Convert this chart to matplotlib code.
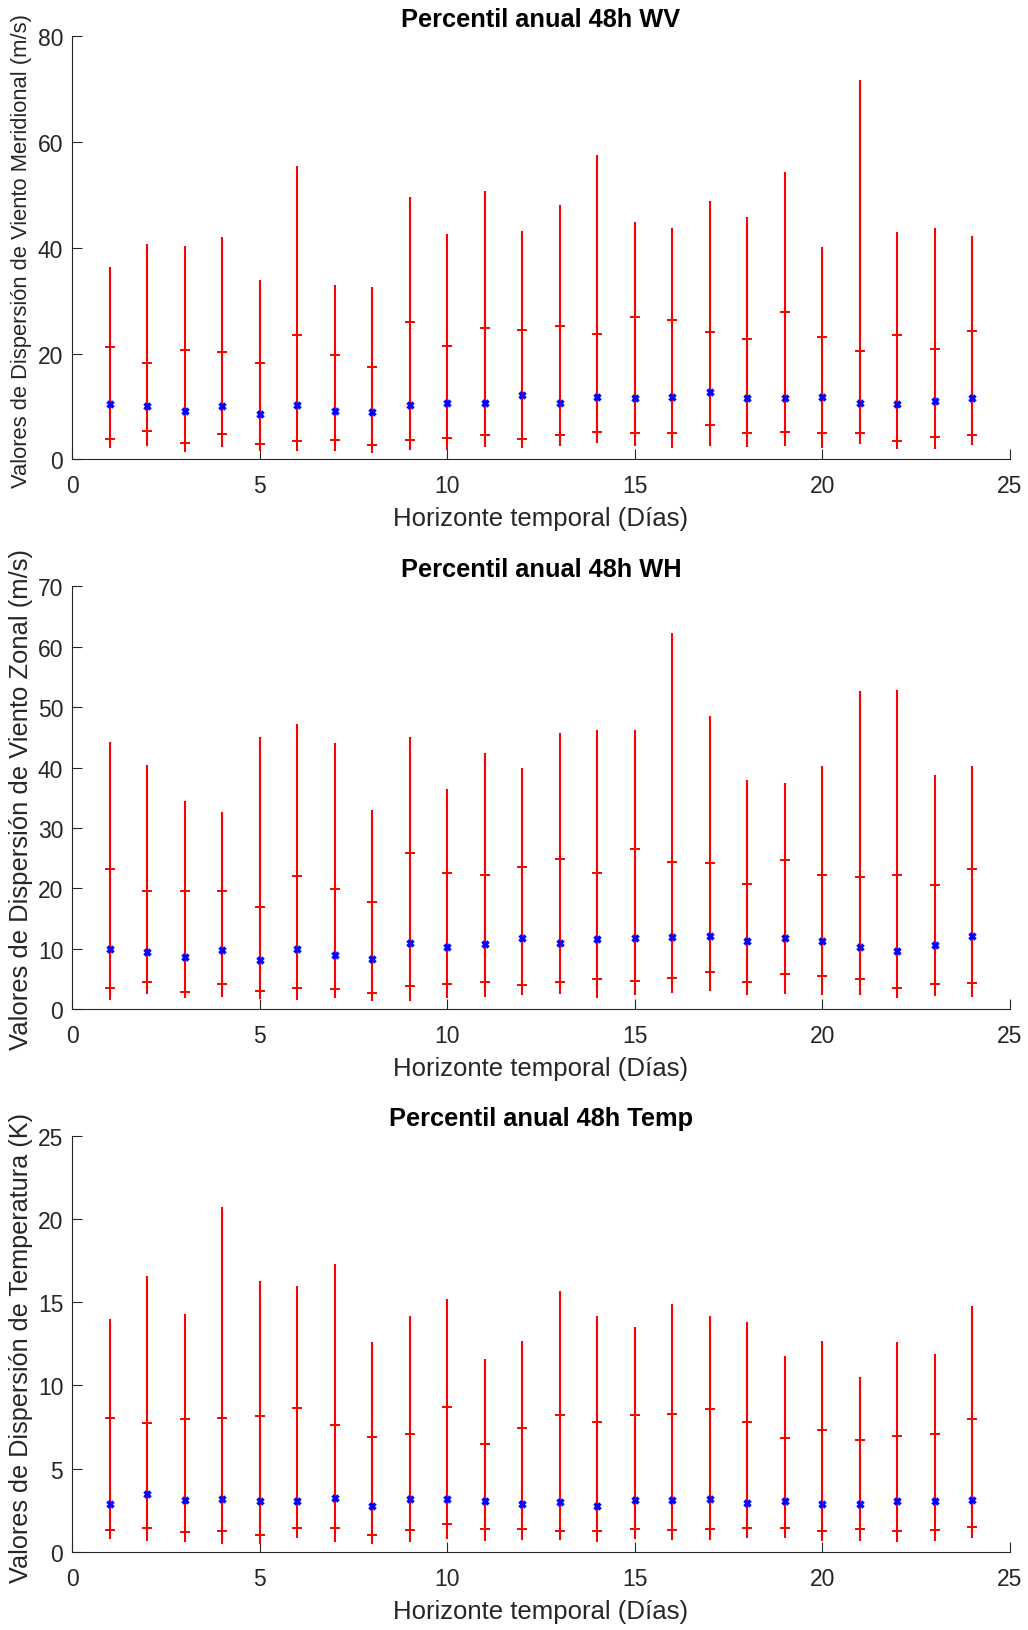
import matplotlib
matplotlib.use("Agg")
import matplotlib.pyplot as plt
import numpy as np

plt.rcParams['font.family'] = ['Liberation Sans', 'DejaVu Sans']

days = list(range(1, 25))

# Panel 1: WV (Viento Meridional)
wv_max = [36.3, 40.7, 40.3, 42.0, 34.0, 55.4, 33.0, 32.5, 49.6, 42.7, 50.8, 43.2,
          48.0, 57.6, 44.8, 43.7, 48.8, 45.8, 54.4, 40.2, 71.8, 42.9, 43.8, 42.2]
wv_p_hi = [21.3, 18.2, 20.7, 20.2, 18.3, 23.5, 19.8, 17.5, 25.9, 21.4, 24.8, 24.5,
           25.3, 23.7, 26.9, 26.4, 24.0, 22.7, 27.8, 23.1, 20.5, 23.6, 20.8, 24.3]
wv_med = [10.5, 10.1, 9.1, 10.1, 8.6, 10.3, 9.1, 8.9, 10.3, 10.7, 10.7, 12.2,
          10.7, 11.8, 11.5, 11.8, 12.8, 11.6, 11.6, 11.8, 10.6, 10.4, 11.0, 11.6]
wv_p_lo = [3.8, 5.3, 3.1, 4.8, 2.9, 3.5, 3.7, 2.7, 3.7, 4.0, 4.6, 3.9,
           4.6, 5.2, 4.9, 4.9, 6.4, 4.9, 5.2, 5.0, 5.0, 3.5, 4.2, 4.6]
wv_min = [2.1, 2.6, 1.3, 2.3, 1.6, 1.6, 1.5, 1.2, 1.8, 1.8, 2.4, 2.1,
          2.6, 3.0, 2.6, 2.2, 2.6, 2.3, 2.6, 2.1, 2.8, 2.0, 2.0, 2.7]

# Panel 2: WH (Viento Zonal)
wh_max = [44.3, 40.4, 34.4, 32.6, 45.1, 47.2, 44.0, 32.9, 45.0, 36.5, 42.4, 40.0,
          45.7, 46.2, 46.3, 62.3, 48.5, 37.9, 37.4, 40.2, 52.7, 52.8, 38.7, 40.2]
wh_p_hi = [23.2, 19.6, 19.6, 19.5, 16.9, 22.0, 19.9, 17.7, 25.8, 22.6, 22.3, 23.5,
           24.8, 22.6, 26.5, 24.4, 24.2, 20.8, 24.7, 22.2, 21.9, 22.2, 20.6, 23.3]
wh_med = [10.0, 9.5, 8.7, 9.8, 8.1, 10.0, 9.0, 8.4, 10.9, 10.3, 10.8, 11.8,
          11.0, 11.6, 11.8, 11.9, 12.2, 11.3, 11.8, 11.3, 10.3, 9.7, 10.6, 12.2]
wh_p_lo = [3.5, 4.6, 2.9, 4.2, 3.1, 3.5, 3.3, 2.7, 3.8, 4.2, 4.5, 4.1,
           4.6, 5.0, 4.7, 5.2, 6.1, 4.5, 5.8, 5.5, 5.0, 3.6, 4.2, 4.4]
wh_min = [1.6, 2.6, 1.8, 2.1, 1.7, 1.6, 1.9, 1.4, 1.4, 1.8, 2.0, 2.3,
          2.5, 1.9, 2.3, 2.7, 3.1, 2.3, 2.6, 2.3, 2.3, 1.9, 2.2, 2.0]

# Panel 3: Temp
t_max = [14.0, 16.6, 14.3, 20.7, 16.3, 15.97, 17.3, 12.6, 14.2, 15.2, 11.6, 12.7,
         15.7, 14.2, 13.5, 14.9, 14.2, 13.8, 11.8, 12.7, 10.5, 12.6, 11.9, 14.8]
t_p_hi = [8.03, 7.77, 8.0, 8.07, 8.17, 8.65, 7.6, 6.9, 7.1, 8.7, 6.5, 7.45,
          8.23, 7.8, 8.23, 8.3, 8.6, 7.8, 6.87, 7.3, 6.75, 6.97, 7.1, 7.97]
t_med = [2.88, 3.46, 3.14, 3.2, 3.04, 3.08, 3.26, 2.74, 3.2, 3.16, 3.08, 2.86,
         3.0, 2.74, 3.1, 3.1, 3.16, 2.94, 3.04, 2.86, 2.86, 3.04, 3.04, 3.1]
t_p_lo = [1.32, 1.42, 1.22, 1.26, 1.02, 1.42, 1.42, 1.02, 1.32, 1.68, 1.38, 1.38,
          1.28, 1.26, 1.38, 1.34, 1.38, 1.42, 1.42, 1.28, 1.38, 1.26, 1.34, 1.48]
t_min = [0.78, 0.66, 0.62, 0.46, 0.46, 0.82, 0.58, 0.46, 0.62, 0.78, 0.68, 0.74,
         0.74, 0.58, 0.78, 0.74, 0.74, 0.82, 0.82, 0.66, 0.66, 0.58, 0.66, 0.82]

titles = ["Percentil anual 48h WV", "Percentil anual 48h WH", "Percentil anual 48h Temp"]
ylabels = ["Valores de Dispersión de Viento Meridional (m/s)",
           "Valores de Dispersión de Viento Zonal (m/s)",
           "Valores de Dispersión de Temperatura (K)"]
xlabel = "Horizonte temporal (Días)"
ylims = [(0, 80), (0, 70), (0, 25)]
yticks = [[0, 20, 40, 60, 80], [0, 10, 20, 30, 40, 50, 60, 70], [0, 5, 10, 15, 20, 25]]
xticks = [0, 5, 10, 15, 20, 25]

data = [(wv_min, wv_p_lo, wv_med, wv_p_hi, wv_max),
        (wh_min, wh_p_lo, wh_med, wh_p_hi, wh_max),
        (t_min, t_p_lo, t_med, t_p_hi, t_max)]

W, H = 1028, 1631
fig = plt.figure(figsize=(W / 100, H / 100), dpi=100)
# axes boxes in pixels (left, top, right, bottom)
boxes = [(72.3, 37.3, 1009.7, 460.3), (72.3, 587.3, 1009.7, 1010.3), (72.3, 1136.7, 1009.7, 1553.0)]
# ylabel: target length and centre (pixels, from top)
ylab_len = [476, 500, 469]
ylab_cy = [251, 800, 1348]
ylab_cx = 21.5
axc = '#262626'

for i, (box, (mn, lo, md, hi, mx)) in enumerate(zip(boxes, data)):
    l, t, r, b = box
    ax = fig.add_axes([l / W, 1 - b / H, (r - l) / W, (b - t) / H])
    ax.vlines(days, mn, mx, color='#ff0000', lw=1.5, zorder=2)
    ax.plot(days, lo, linestyle='none', marker='+', ms=7, mew=1.4, color='#ff0000', zorder=3)
    ax.plot(days, hi, linestyle='none', marker='+', ms=7, mew=1.4, color='#ff0000', zorder=3)
    ax.plot(days, md, linestyle='none', marker='x', ms=4.8, mew=2.5, color='#0000ff', zorder=4)
    ax.set_xlim(0, 25)
    ax.set_ylim(*ylims[i])
    ax.set_xticks(xticks)
    ax.set_yticks(yticks[i])
    for s in ['top', 'right']:
        ax.spines[s].set_visible(False)
    for s in ['left', 'bottom']:
        ax.spines[s].set_color(axc)
        ax.spines[s].set_linewidth(0.8)
    ax.tick_params(direction='in', length=7, width=0.8, color=axc, labelcolor=axc,
                   labelsize=16.5)
    ax.tick_params(axis='x', pad=10.5)
    ax.tick_params(axis='y', pad=6.5)
    ax.set_title(titles[i], fontsize=18.3, fontweight='bold', color='black', pad=7.5)
    ax.set_xlabel(xlabel, fontsize=18.5, color=axc, labelpad=6.5)
    yl = ax.set_ylabel(ylabels[i], fontsize=18, color=axc, va='center', ha='center')
    ax.yaxis.set_label_coords(ylab_cx / W, 1 - ylab_cy[i] / H, transform=fig.transFigure)
    # fit ylabel length to the reference
    fig.canvas.draw()
    ext = yl.get_window_extent()
    yl.set_fontsize(18 * ylab_len[i] / ext.height)

fig.savefig("out.png", dpi=100)
